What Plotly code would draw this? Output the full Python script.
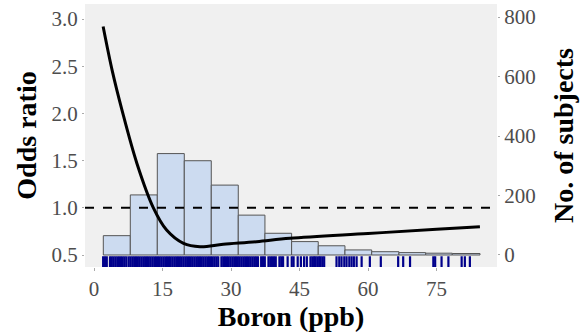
import plotly.graph_objects as go

# Histogram (No. of subjects), bin edges in ppb
bin_edges = [2.04, 7.95, 13.86, 19.77, 25.68, 31.59, 37.43, 43.27, 49.1, 54.95, 60.8, 66.77, 72.62, 78.45, 84.52]
bin_counts = [65, 202, 341, 317, 235, 134, 73, 45, 31, 17, 11, 8, 6, 5]

# Odds ratio curve
or_x = [2.0, 4.0, 6.1, 9.4, 13.0, 15.9, 19.6, 23.2, 28.3, 35.6, 42.9, 60.0, 75.0, 84.5]
or_y = [2.92, 2.45, 2.04, 1.47, 1.0, 0.765, 0.624, 0.588, 0.613, 0.641, 0.677, 0.728, 0.772, 0.80]

# Rug of individual boron values
rug_x = [2.0, 2.4, 2.8, 3.5, 3.9, 4.3, 4.7, 5.1, 5.5, 5.9, 6.3, 6.7, 7.1, 7.6, 8.0, 8.4,
         8.8, 9.2, 9.6, 10.0, 10.4, 10.8, 11.2, 11.6, 12.0, 12.4, 12.8, 13.2, 13.6, 14.0,
         14.4, 14.8, 15.2, 15.6, 16.0, 16.4, 16.8, 17.2, 17.6, 18.0, 18.4, 18.8, 19.2,
         19.6, 20.0, 20.4, 20.8, 21.2, 21.6, 22.0, 22.4, 22.8, 23.2, 23.6, 24.0, 24.4,
         24.8, 25.2, 25.6, 26.0, 26.4, 26.8, 27.2, 27.9, 28.3, 28.7, 29.1, 29.5, 29.9,
         30.3, 30.7, 31.1, 31.5, 31.9, 32.3, 32.7, 33.1, 33.5, 33.9, 34.3, 34.7, 35.1,
         35.5, 35.9, 36.6, 37.0, 37.4, 38.2, 38.6, 39.0, 39.4, 39.8, 40.6, 41.0, 41.4,
         42.4, 43.3, 43.7, 44.6, 45.3, 46.0, 46.6, 47.4, 47.8, 48.2, 48.5, 48.9, 49.3,
         49.6, 50.0, 50.4, 53.1, 53.7, 54.2, 54.8, 55.3, 55.9, 56.4, 56.9, 57.5, 58.6,
         60.4, 62.8, 66.6, 67.7, 69.2, 74.3, 74.7, 76.1, 77.6, 80.5, 81.2, 82.3]

x_ticks = [0, 15, 30, 45, 60, 75]
or_ticks = [0.5, 1.0, 1.5, 2.0, 2.5, 3.0]
count_ticks = [0, 200, 400, 600, 800]
reference_or = 1.0

centers = [(a + b) / 2 for a, b in zip(bin_edges[:-1], bin_edges[1:])]
widths = [b - a for a, b in zip(bin_edges[:-1], bin_edges[1:])]

SERIF = "Liberation Serif"
TICK_COLOR = "#4D4D4D"
RUG = "#00008B"

fig = go.Figure()
fig.add_trace(go.Bar(
    x=centers, y=bin_counts, width=widths, yaxis="y",
    marker=dict(color="#CCDBF0", line=dict(color="#555555", width=1)),
    showlegend=False, hoverinfo="skip",
))
fig.add_trace(go.Scatter(
    x=or_x, y=or_y, yaxis="y2", mode="lines",
    line=dict(color="black", width=3, shape="spline", smoothing=1.0),
    showlegend=False,
))
fig.add_trace(go.Scatter(
    x=rug_x, y=[0.42] * len(rug_x), yaxis="y2", mode="markers",
    marker=dict(symbol="line-ns-open", size=9, color=RUG, line=dict(color=RUG, width=2.2)),
    showlegend=False,
))
fig.add_shape(type="line", xref="paper", x0=0, x1=1, yref="y2", y0=reference_or, y1=reference_or,
              line=dict(color="black", width=2, dash="9px,9px"))

fig.update_layout(
    width=587, height=335,
    margin=dict(l=85, r=90, t=4, b=68),
    paper_bgcolor="white", plot_bgcolor="#F0F0F0",
    font=dict(family=SERIF, color=TICK_COLOR, size=21),
    xaxis=dict(
        range=[-1.97, 88.24], tickvals=x_ticks, ticks="outside", ticklen=3,
        tickcolor="#AAAAAA", showgrid=False, zeroline=False, showline=False,
        automargin=False,
        tickfont=dict(family=SERIF, size=21, color=TICK_COLOR),
        title=dict(text="Boron (ppb)", standoff=2,
                   font=dict(family=SERIF, size=28, color="black", weight="bold")),
    ),
    yaxis=dict(
        side="right", range=[-40.4, 844], tickvals=count_ticks, ticks="outside",
        ticklen=2, tickcolor="#AAAAAA", showgrid=False, zeroline=False, showline=False,
        automargin=False,
        tickfont=dict(family=SERIF, size=21, color=TICK_COLOR),
        title=dict(text="No. of subjects", standoff=18,
                   font=dict(family=SERIF, size=28, color="black", weight="bold")),
    ),
    yaxis2=dict(
        overlaying="y", side="left", range=[0.373, 3.159], tickvals=or_ticks,
        tickformat=".1f", ticks="outside", ticklen=2, tickcolor="#AAAAAA",
        showgrid=False, zeroline=False, showline=False, automargin=False,
        tickfont=dict(family=SERIF, size=21, color=TICK_COLOR),
        title=dict(text="Odds ratio", standoff=6,
                   font=dict(family=SERIF, size=28, color="black", weight="bold")),
    ),
)

fig.write_html("out.html", config={"displayModeBar": False},
               post_script="document.body.style.margin='0';")
